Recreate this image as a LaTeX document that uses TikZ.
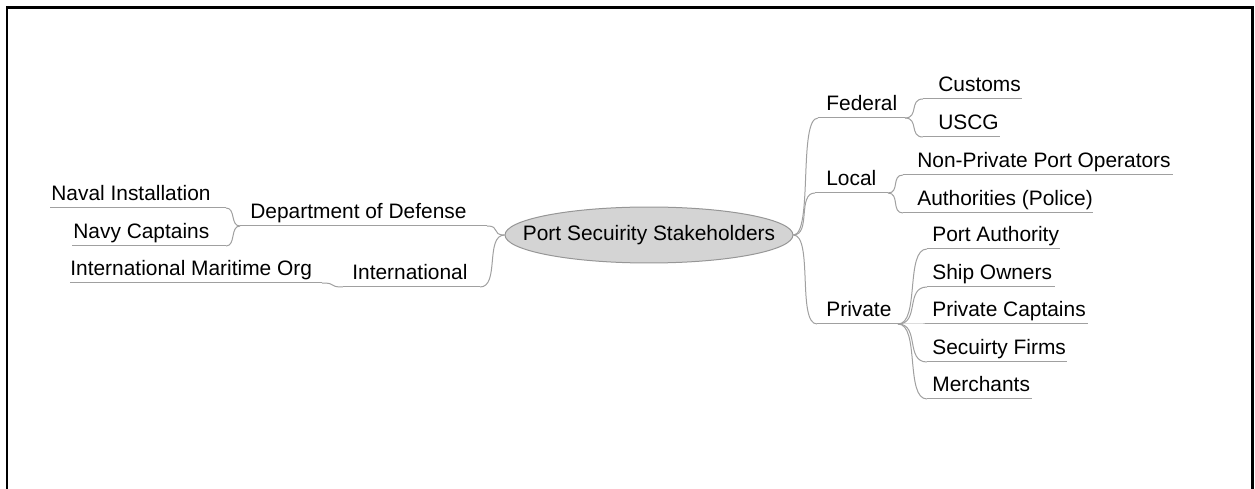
\documentclass[tikz,border=0pt]{standalone}
\usepackage{fontspec}
\setmainfont{Liberation Sans}
\definecolor{branchgray}{HTML}{A0A0A0}
\definecolor{bubblefill}{HTML}{D4D4D4}
\definecolor{bubbleedge}{HTML}{969696}
\tikzset{
  topic/.style={anchor=base west, inner sep=0pt},
  hub/.style={minimum width=5.76cm, minimum height=1.12cm, inner sep=0pt},
  bubble/.style={draw=bubbleedge, fill=bubblefill, line width=0.02cm},
  underline/.style={draw=branchgray, line width=0.02cm},
  branch/.style={draw=branchgray, line width=0.02cm},
  frame/.style={line width=0.06cm, line cap=rect}
}

\begin{document}
\begin{tikzpicture}[x=0.02cm, y=-0.02cm, font=\fontsize{11.9}{14}\selectfont]
  \useasboundingbox (0,0) rectangle (1255,489);
  \draw[frame] (7,489) -- (7,8) -- (1252,8) -- (1252,489);

  \filldraw[bubble] (649,235) ellipse [x radius=2.88cm, y radius=0.56cm];
  \node[hub] (root) at (649,235) {Port Secuirity Stakeholders};

  % topics: name/label/line start/line end/line y/text x
  \foreach \nm/\lbl/\xa/\xb/\y/\xt in {
      naval/Naval Installation/50/226/208/51,
      navy/Navy Captains/72/226/246/73,
      dod/Department of Defense/240/487/226/250,
      imo/International Maritime Org/70/322/283/70,
      intl/International/343/480/287/352,
      federal/Federal/818/905/118/826,
      customs/Customs/923/1022/99/938,
      uscg/USCG/923/1000/137/938,
      local/Local/815/888/193/826,
      nonpriv/Non-Private Port Operators/903/1173/175/917,
      auth/{Authorities (Police)}/903/1093/213/917,
      private/Private/817/898/324/826,
      portauth/Port Authority/927/1060/249/932,
      ship/Ship Owners/927/1055/287/932,
      privcap/Private Captains/927/1088/324/932,
      firms/Secuirty Firms/927/1067/362/932,
      merch/Merchants/927/1032/399/932} {
    \coordinate (\nm-l) at (\xa,\y);
    \coordinate (\nm-r) at (\xb,\y);
    \node[topic] (\nm) at (\xt,\y-7) {\lbl};
    \draw[underline] (\nm-l) -- (\nm-r);
  }

  % right-hand branches
  \foreach \p/\c/\d in {root.east/federal-l/20, root.east/local-l/18, root.east/private-l/20,
      federal-r/customs-l/14, federal-r/uscg-l/14,
      local-r/nonpriv-l/12, local-r/auth-l/12,
      private-r/portauth-l/22, private-r/ship-l/22, private-r/privcap-l/22,
      private-r/firms-l/22, private-r/merch-l/22}
    \draw[branch] (\p) .. controls +(\d,0) and +(-\d,0) .. (\c);

  % left-hand branches
  \foreach \p/\c/\d in {root.west/dod-r/14, root.west/intl-r/20,
      dod-l/naval-r/10, dod-l/navy-r/10, intl-l/imo-r/16}
    \draw[branch] (\p) .. controls +(-\d,0) and +(\d,0) .. (\c);
\end{tikzpicture}
\end{document}
